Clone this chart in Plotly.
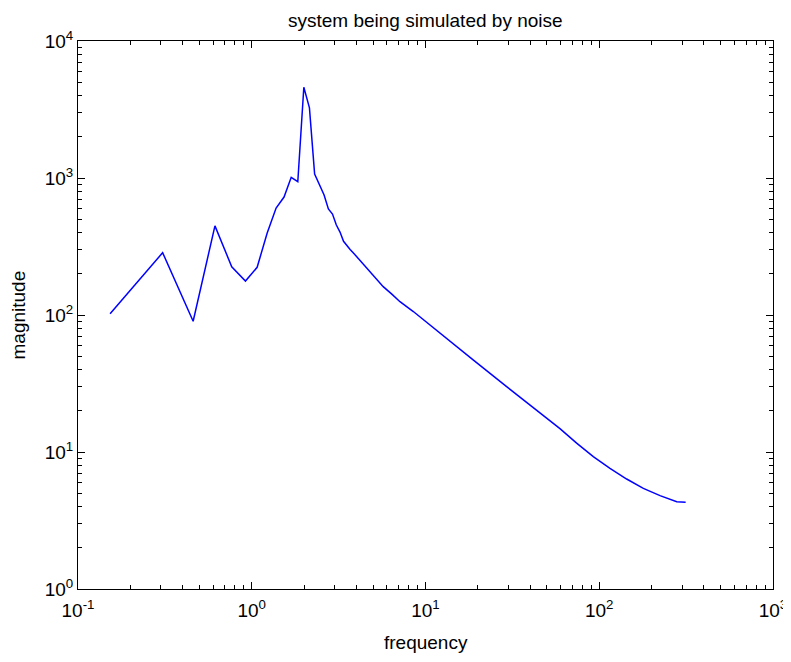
import plotly.graph_objects as go

# Frequencies (rad/s) and magnitudes
freq = [0.153, 0.307, 0.460, 0.614, 0.767, 0.920, 1.074, 1.227, 1.381, 1.534,
        1.687, 1.841, 1.994, 2.148, 2.301, 2.454, 2.608, 2.761, 2.915, 3.068,
        3.221, 3.375, 3.528, 3.682, 3.835, 3.988, 4.142,
        4.49, 5.0, 5.71, 6.4, 7.13, 8.51, 10.0, 12.1, 18.8, 29.3, 45.6, 59.4,
        74.1, 92.4, 115.3, 143.8, 179.4, 223.8, 279.2, 314.2]
magnitude = [102, 285, 90, 447, 225, 177, 223, 397, 604, 726,
             1011, 940, 4600, 3250, 1070, 904, 752, 594, 546, 454,
             403, 345, 320, 301, 285, 269, 255,
             228, 196, 161, 142, 125, 106, 89.6, 73.4, 47.0, 30.0, 19.2, 14.8,
             11.6, 9.25, 7.60, 6.35, 5.43, 4.80, 4.34, 4.30]

x_major = [0.1, 1, 10, 100, 1000]
x_labels = ["10<sup>-1</sup>", "10<sup>0</sup>", "10<sup>1</sup>", "10<sup>2</sup>", "10<sup>3</sup>"]
y_major = [1, 10, 100, 1000, 10000]
y_labels = ["10<sup>0</sup>", "10<sup>1</sup>", "10<sup>2</sup>", "10<sup>3</sup>", "10<sup>4</sup>"]

title_text = "system being simulated by noise"
x_title = "frequency"
y_title = "magnitude"

def minor_vals(lo_exp, hi_exp):
    vals = []
    for e in range(lo_exp, hi_exp):
        for k in range(2, 10):
            vals.append(k * 10.0 ** e)
    return vals

FONT = "Liberation Sans, Arial, sans-serif"

fig = go.Figure()
fig.add_trace(go.Scatter(x=freq, y=magnitude, mode="lines",
                         line=dict(color="#0000ff", width=1.5),
                         showlegend=False, hoverinfo="skip"))

axis_common = dict(
    type="log", showgrid=False, zeroline=False, automargin=False,
    showline=True, linecolor="black", linewidth=1, mirror="allticks",
    ticks="inside", ticklen=7, tickwidth=1, tickcolor="black",
    tickmode="array",
    tickfont=dict(family=FONT, size=19, color="black"),
)

fig.update_xaxes(**axis_common, range=[-1, 3], tickvals=x_major, ticktext=x_labels,
                 ticklabelstandoff=4,
                 minor=dict(tickmode="array", tickvals=minor_vals(-1, 3),
                            ticks="inside", ticklen=4, tickwidth=1, tickcolor="black"))
fig.update_yaxes(**axis_common, range=[0, 4], tickvals=y_major, ticktext=y_labels,
                 minor=dict(tickmode="array", tickvals=minor_vals(0, 4),
                            ticks="inside", ticklen=4, tickwidth=1, tickcolor="black"))

# the page body adds an 8px offset, so the figure is sized to fill the window
fig.update_layout(
    width=783, height=654,
    margin=dict(l=70, r=18, t=33, b=73, pad=0),
    paper_bgcolor="white", plot_bgcolor="white",
    font=dict(family=FONT, color="black"),
    annotations=[
        dict(text=title_text, xref="paper", yref="paper", x=0.5, y=1,
             xanchor="center", yanchor="bottom", yshift=8, showarrow=False,
             font=dict(family=FONT, size=19, color="black")),
        dict(text=x_title, xref="paper", yref="paper", x=0.5, y=0,
             xanchor="center", yanchor="top", yshift=-41, showarrow=False,
             font=dict(family=FONT, size=19, color="black")),
        dict(text=y_title, xref="paper", yref="paper", x=0, y=0.5,
             xanchor="right", yanchor="middle", xshift=-48, textangle=-90,
             showarrow=False, font=dict(family=FONT, size=19, color="black")),
    ],
)

fig.write_html("out.html")
